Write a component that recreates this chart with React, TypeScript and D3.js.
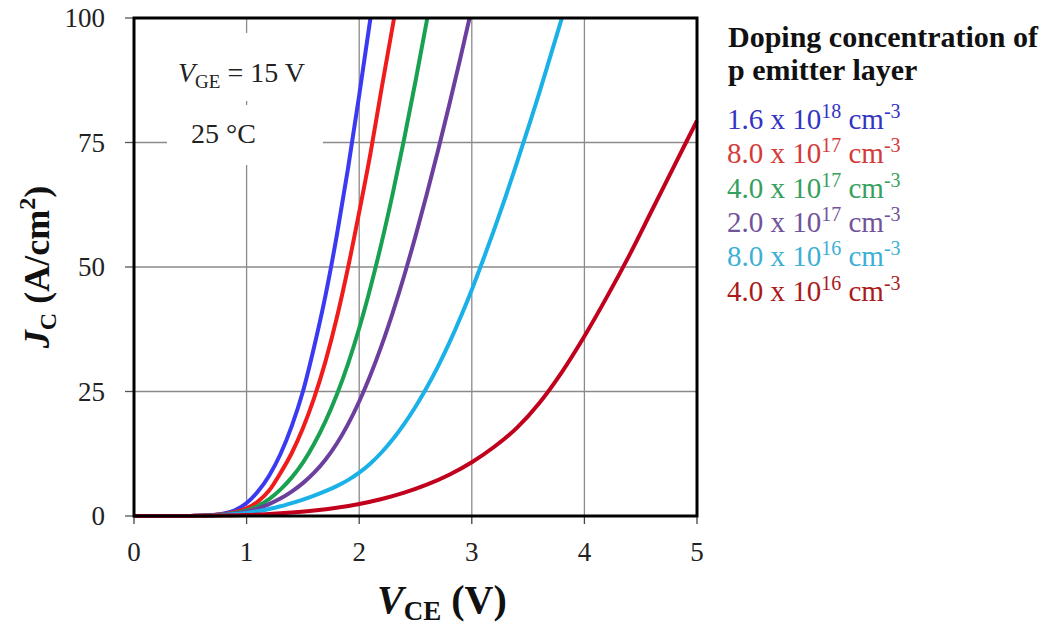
import React from "react";
import * as d3 from "d3";

// J-V output characteristics of an IGBT for several p-emitter doping levels
// Each series: [V_CE (V), J_C (A/cm^2)]
const dop16e18: [number, number][] = [
  [0, 0], [0.4, 0], [0.5, 0.02], [0.6, 0.07], [0.7, 0.2], [0.8, 0.5], [0.9, 1.2], [1.0, 2.6],
  [1.1, 4.9], [1.2, 8.1], [1.3, 12.4], [1.4, 18.0], [1.5, 25.0], [1.6, 34.0], [1.7, 44.2],
  [1.8, 56.2], [1.9, 69.7], [2.0, 84.5], [2.1, 100],
];
const dop80e17: [number, number][] = [
  [0, 0], [0.4, 0], [0.5, 0.02], [0.6, 0.07], [0.7, 0.18], [0.8, 0.4], [0.9, 0.8], [1.0, 1.55],
  [1.1, 2.9], [1.2, 5.1], [1.3, 8.6], [1.4, 12.6], [1.5, 17.6], [1.6, 23.7], [1.7, 31.0],
  [1.8, 39.7], [1.9, 49.8], [2.0, 61.0], [2.1, 72.8], [2.2, 86.0], [2.31, 100],
];
const dop40e17: [number, number][] = [
  [0, 0], [0.4, 0], [0.5, 0.02], [0.6, 0.06], [0.7, 0.16], [0.8, 0.33], [0.9, 0.6], [1.0, 1.1],
  [1.1, 2.0], [1.2, 3.4], [1.3, 5.3], [1.4, 7.7], [1.5, 10.7], [1.6, 14.5], [1.7, 19.0],
  [1.8, 24.3], [1.9, 30.5], [2.0, 37.7], [2.1, 45.9], [2.2, 55.0], [2.3, 65.0], [2.4, 75.8],
  [2.5, 87.3], [2.605, 100],
];
const dop20e17: [number, number][] = [
  [0, 0], [0.4, 0], [0.5, 0.02], [0.6, 0.05], [0.7, 0.14], [0.8, 0.28], [0.9, 0.5], [1.0, 0.85],
  [1.1, 1.5], [1.2, 2.4], [1.3, 3.5], [1.4, 4.9], [1.5, 6.6], [1.6, 8.7], [1.7, 11.3],
  [1.8, 14.5], [1.9, 18.4], [2.0, 23.0], [2.1, 28.3], [2.2, 34.3], [2.3, 41.0], [2.4, 48.3],
  [2.5, 56.2], [2.6, 64.6], [2.7, 73.4], [2.8, 82.6], [2.9, 92.1], [2.98, 100],
];
const dop80e16: [number, number][] = [
  [0, 0], [0.4, 0], [0.5, 0.02], [0.6, 0.05], [0.7, 0.12], [0.8, 0.22], [0.9, 0.38], [1.0, 0.6],
  [1.1, 0.95], [1.2, 1.4], [1.3, 1.95], [1.4, 2.6], [1.5, 3.3], [1.6, 4.1], [1.7, 5.0],
  [1.8, 6.0], [1.9, 7.2], [2.0, 8.7], [2.1, 10.55], [2.2, 12.8], [2.3, 15.45], [2.4, 18.5],
  [2.5, 21.95], [2.6, 25.8], [2.7, 30.05], [2.8, 34.75], [2.9, 39.9], [3.0, 45.45], [3.1, 51.4],
  [3.2, 57.6], [3.3, 64.1], [3.4, 70.9], [3.5, 77.9], [3.6, 85.0], [3.7, 92.5], [3.8, 100],
];
const dop40e16: [number, number][] = [
  [0, 0], [0.4, 0], [0.5, 0.02], [0.8, 0.1], [1.0, 0.2], [1.2, 0.4], [1.4, 0.7], [1.6, 1.1],
  [1.8, 1.66], [2.0, 2.42], [2.2, 3.42], [2.4, 4.7], [2.6, 6.3], [2.8, 8.3], [3.0, 10.8],
  [3.2, 13.9], [3.4, 17.7], [3.6, 22.7], [3.8, 28.9], [4.0, 36.1], [4.2, 44.0], [4.4, 52.4],
  [4.6, 61.4], [4.8, 70.4], [5.0, 79.4],
];

const seriesData = [dop16e18, dop80e17, dop40e17, dop20e17, dop80e16, dop40e16];
const lineColors = ["#3a3af2", "#f01c1c", "#18a150", "#6c3f9e", "#1ab0e8", "#c0001c"];
const labelColors = ["#3434c4", "#d43a3a", "#36a05e", "#72539a", "#3cb0d4", "#ab1a1a"];
const labelMantissa = ["1.6", "8.0", "4.0", "2.0", "8.0", "4.0"];
const labelExponent = ["18", "17", "17", "17", "16", "16"];

const xTicks = [0, 1, 2, 3, 4, 5];
const yTicks = [0, 25, 50, 75, 100];

const FONT = "'Liberation Serif', 'Times New Roman', serif";

export default function App() {
  const x = d3.scaleLinear().domain([0, 5]).range([134, 697]);
  const y = d3.scaleLinear().domain([0, 100]).range([516, 18]);
  const line = d3
    .line<[number, number]>()
    .x((d) => x(d[0]))
    .y((d) => y(d[1]))
    .curve(d3.curveMonotoneX);

  const [x0, x1] = x.range();
  const [y0, y1] = y.range();

  return (
    <svg
      width={1051}
      height={639}
      style={{ position: "absolute", left: 0, top: 0, background: "#fff" }}
      fontFamily={FONT}
    >
      {/* grid */}
      {xTicks.slice(1, -1).map((t) => (
        <line key={"gx" + t} x1={x(t)} x2={x(t)} y1={y1} y2={y0} stroke="#8a8a8a" strokeWidth={1.3} />
      ))}
      {yTicks.slice(1, -1).map((t) => (
        <line key={"gy" + t} x1={x0} x2={x1} y1={y(t)} y2={y(t)} stroke="#8a8a8a" strokeWidth={1.3} />
      ))}
      {/* outward tick marks */}
      {yTicks.map((t) => (
        <line key={"ty" + t} x1={x0 - 9} x2={x0} y1={y(t)} y2={y(t)} stroke="#555" strokeWidth={1.3} />
      ))}
      {xTicks.map((t) => (
        <line key={"tx" + t} x1={x(t)} x2={x(t)} y1={y0} y2={y0 + 8} stroke="#444" strokeWidth={1.3} />
      ))}

      {/* annotation boxes */}
      <rect x={160} y={33} width={160} height={68} fill="#fff" />
      <rect x={167} y={105} width={156} height={60} fill="#fff" />
      <text x={178} y={82} fontSize={28} fill="#222">
        <tspan fontStyle="italic">V</tspan>
        <tspan fontSize={19} dy={6}>GE</tspan>
        <tspan dy={-6}> = 15 V</tspan>
      </text>
      <text x={191} y={143} fontSize={28} fill="#222">
        25 °C
      </text>

      {/* curves */}
      {seriesData.map((s, i) => (
        <path key={"s" + i} d={line(s) ?? ""} fill="none" stroke={lineColors[i]} strokeWidth={4} strokeLinejoin="round" />
      ))}

      {/* frame */}
      <rect x={x0} y={y1} width={x1 - x0} height={y0 - y1} fill="none" stroke="#000" strokeWidth={3} />

      {/* tick labels */}
      {yTicks.map((t) => (
        <text key={"ly" + t} x={105} y={y(t) + 9} fontSize={27} textAnchor="end" fill="#222">
          {t}
        </text>
      ))}
      {xTicks.map((t) => (
        <text key={"lx" + t} x={x(t)} y={561} fontSize={27} textAnchor="middle" fill="#222">
          {t}
        </text>
      ))}

      {/* axis titles */}
      <text x={377} y={613} fontSize={40} fontWeight="bold" fill="#111">
        <tspan fontStyle="italic">V</tspan>
        <tspan fontSize={27} dy={7}>CE</tspan>
        <tspan dy={-7}> (V)</tspan>
      </text>
      <g transform={`translate(49, ${(y0 + y1) / 2}) rotate(-90)`}>
        <text x={0} y={0} fontSize={36} fontWeight="bold" textAnchor="middle" fill="#111">
          <tspan fontStyle="italic">J</tspan>
          <tspan fontSize={24} dy={7}>C</tspan>
          <tspan dy={-7}> (A/cm</tspan>
          <tspan fontSize={24} dy={-14}>2</tspan>
          <tspan dy={14}>)</tspan>
        </text>
      </g>

      {/* legend */}
      <text x={728} y={47} fontSize={30} fontWeight="bold" fill="#111">
        Doping concentration of
      </text>
      <text x={728} y={80} fontSize={30} fontWeight="bold" fill="#111">
        p emitter layer
      </text>
      {labelMantissa.map((m, i) => (
        <text key={"lg" + i} x={727} y={129 + 34.3 * i} fontSize={29} fill={labelColors[i]}>
          {m} x 10
          <tspan fontSize={20} dy={-11}>{labelExponent[i]}</tspan>
          <tspan dy={11}> cm</tspan>
          <tspan fontSize={20} dy={-11}>-3</tspan>
        </text>
      ))}
    </svg>
  );
}
